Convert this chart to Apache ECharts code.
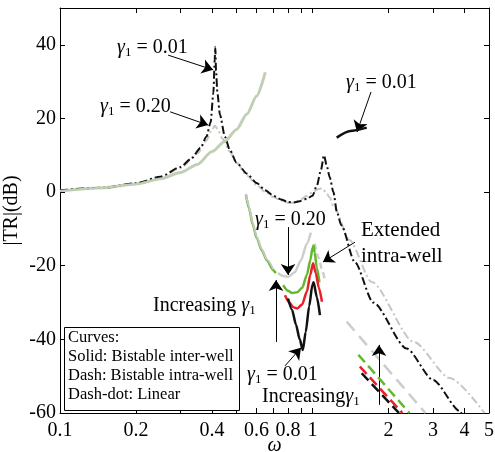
<!DOCTYPE html>
<html>
<head>
<meta charset="utf-8">
<script src="https://cdn.jsdelivr.net/npm/echarts@6/dist/echarts.min.js"></script>
<style>
  html, body { margin: 0; padding: 0; background: #fff; }
  #chart { width: 495px; height: 452px; }
</style>
</head>
<body>
<div id="chart"></div>
<script>
  // axis ticks / labels
  const xTicks = [0.1, 0.2, 0.3, 0.4, 0.5, 0.6, 0.7, 0.8, 0.9, 1, 2, 3, 4, 5]
  const xLabels = [0.1, 0.2, 0.4, 0.6, 0.8, 1, 2, 3, 4, 5]
  const yLabels = [-60, -40, -20, 0, 20, 40]

  // linear, gamma1 = 0.01 (black dash-dot)
  const linearLow = [[0.1, 0.5], [0.15, 1.2], [0.2, 2.4], [0.25, 4.2], [0.3, 6.8], [0.33, 9], [0.36, 12], [0.38, 15],
    [0.395, 19], [0.405, 27], [0.41, 36], [0.412, 39.5], [0.415, 33], [0.42, 27], [0.43, 21], [0.45, 15], [0.47, 11.5],
    [0.5, 8], [0.55, 5], [0.6, 2.5], [0.65, 0.5], [0.7, -1], [0.75, -2], [0.8, -2.7], [0.84, -2.8], [0.9, -2.4],
    [0.95, -1.8], [1.0, -1], [1.04, 1.7], [1.08, 6], [1.11, 10], [1.14, 7], [1.17, 4], [1.21, 0], [1.25, -5.5],
    [1.3, -9], [1.47, -19], [1.74, -30], [2.36, -42.5], [3.0, -51], [3.84, -59.5], [3.9, -60.3]]
  // linear, gamma1 = 0.20 (grey dash-dot)
  const linearHigh = [[0.1, 0.5], [0.15, 1.2], [0.2, 2.3], [0.25, 4], [0.3, 6.5], [0.35, 10.5], [0.38, 14], [0.4, 17],
    [0.41, 18], [0.42, 17.2], [0.44, 14.5], [0.47, 11], [0.5, 8], [0.55, 4.5], [0.6, 2], [0.65, 0], [0.7, -1.3],
    [0.75, -2.3], [0.8, -2.9], [0.85, -2.9], [0.9, -2], [0.95, -1], [1.0, 0], [1.05, 0.8], [1.09, 1], [1.13, 0],
    [1.17, -1.5], [1.21, -3.7], [1.4, -13], [1.715, -24.4], [2.51, -40.6], [3.5, -50.5], [4.8, -60]]

  // bistable inter-well (solid)
  const interUpper = [[0.1, 0.3], [0.15, 1.2], [0.2, 2.2], [0.25, 3.6], [0.3, 5.3], [0.35, 7.5], [0.4, 11],
    [0.45, 13.8], [0.5, 17], [0.55, 21.2], [0.6, 26], [0.65, 32.5]]
  const interLowGrey = [[0.545, -0.5], [0.56, -4], [0.58, -8.5], [0.6, -12], [0.63, -15.5], [0.66, -18.3], [0.7, -21]]
  const interLowGreen = [[0.545, -0.7], [0.56, -4.3], [0.58, -8.8], [0.6, -12.3], [0.63, -15.8], [0.66, -18.6], [0.7, -21.2], [0.715, -22]]
  const interResGrey = [[0.73, -22], [0.76, -22.7], [0.8, -23], [0.85, -21.8], [0.9, -18.5], [0.95, -14], [0.985, -11]]
  const interResGreen = [[0.765, -25.3], [0.8, -26.8], [0.83, -27.4], [0.87, -27.2], [0.91, -26], [0.95, -22.5],
    [0.98, -18.5], [1.0, -15.2], [1.01, -14.5], [1.02, -16.5], [1.04, -20.5], [1.065, -24.5]]
  const interResRed = [[0.778, -28], [0.81, -30], [0.84, -31.3], [0.87, -31.6], [0.91, -30.5], [0.95, -27],
    [0.98, -22.5], [1.005, -19.3], [1.03, -22], [1.06, -26], [1.09, -29.8]]
  const interResBlack = [[0.8, -28.9], [0.83, -32], [0.86, -36], [0.89, -40], [0.915, -42.9], [0.94, -38],
    [0.97, -31], [1.0, -25], [1.01, -24.5], [1.04, -28.5], [1.07, -33.4]]
  const interHighBlack = [[1.247, 14.8], [1.41, 16.6], [1.64, 17.5]]

  // bistable intra-well (dash)
  const extendedGrey = [[1.02, -14], [1.06, -18], [1.09, -21], [1.12, -24]]
  const intraGrey = [[1.366, -35.2], [2.8, -60]]
  const intraGreen = [[1.52, -44.2], [2.42, -60]]
  const intraRed = [[1.54, -47.4], [2.27, -60]]
  const intraBlack = [[1.566, -49.2], [2.2, -60]]

  // annotation arrows [from, to] in data coords
  const arrows = [
    [[0.268, 37.2], [0.404, 33.2]],
    [[0.273, 21.8], [0.386, 18.2]],
    [[1.705, 27.2], [1.5, 16.3]],
    [[0.8, -9.5], [0.8, -22.5]],
    [[1.473, -13.6], [1.1, -19]],
    [[0.717, -40.7], [0.717, -23.9]],
    [[0.778, -47.2], [0.9, -42.3]],
    [[1.834, -57.8], [1.834, -41.5]]
  ]

  const serif = 'Liberation Serif'
  const GREY = '#cdcdcd'
  const GREEN = '#63b82e'
  const RED = '#e8202a'
  const BLACK = '#111'

  const myChart = echarts.init(document.getElementById('chart'))

  function line(data, color, width, type, z, opacity) {
    return {
      type: 'line',
      data: data,
      showSymbol: false,
      symbol: 'none',
      smooth: 0.25,
      smoothMonotone: 'x',
      silent: true,
      z: z || 2,
      lineStyle: { color: color, width: width, type: type || 'solid', opacity: opacity == null ? 1 : opacity }
    }
  }

  const rich = {
    g: { fontFamily: serif, fontSize: 20, fontStyle: 'italic', fill: '#000' },
    s: { fontFamily: serif, fontSize: 13, padding: [10, 0, 0, 0], fill: '#000' },
    t: { fontFamily: serif, fontSize: 20, fill: '#000' }
  }
  function gammaText(x, y, str) {
    return {
      type: 'text', x: x, y: y, z: 20,
      style: { text: str, rich: rich, fontFamily: serif, fontSize: 20, fill: '#000', verticalAlign: 'middle' }
    }
  }
  function plainText(x, y, str, size) {
    return {
      type: 'text', x: x, y: y, z: 20,
      style: { text: str, fontFamily: serif, fontSize: size, fill: '#000', verticalAlign: 'middle' }
    }
  }

  const dashDot = [8, 3, 2, 3]

  const option = {
    animation: false,
    grid: { left: 60, right: 6, top: 8, bottom: 39, outerBoundsMode: 'none', containLabel: false },
    xAxis: [{
      type: 'log', min: 0.1, max: 5, logBase: 10,
      name: 'ω', nameLocation: 'middle', nameGap: 23, nameMoveOverlap: false,
      nameTextStyle: { fontFamily: serif, fontSize: 20, color: '#000', fontStyle: 'italic' },
      axisLine: { onZero: false, lineStyle: { color: '#000', width: 1 } },
      axisTick: { inside: true, length: 5, customValues: xTicks, lineStyle: { color: '#000' } },
      minorTick: { show: false },
      axisLabel: {
        customValues: xLabels, margin: 8, color: '#000', fontFamily: serif, fontSize: 20,
        alignMinLabel: 'center', alignMaxLabel: 'center', hideOverlap: false,
        formatter: v => String(+(+v).toPrecision(3))
      },
      splitLine: { show: false }
    }, {
      type: 'log', min: 0.1, max: 5, logBase: 10, position: 'top',
      axisLine: { onZero: false, lineStyle: { color: '#000', width: 1 } },
      axisTick: { inside: true, length: 5, customValues: xTicks, lineStyle: { color: '#000' } },
      axisLabel: { show: false },
      splitLine: { show: false }
    }],
    yAxis: [{
      type: 'value', min: -60, max: 50, interval: 20,
      name: '|TR|(dB)', nameLocation: 'middle', nameGap: 38, nameMoveOverlap: false,
      nameTextStyle: { fontFamily: serif, fontSize: 20, color: '#000' },
      axisLine: { show: true, onZero: false, lineStyle: { color: '#000', width: 1 } },
      axisTick: { show: true, inside: true, length: 5, lineStyle: { color: '#000' } },
      axisLabel: {
        margin: 4, color: '#000', fontFamily: serif, fontSize: 20,
        formatter: v => (yLabels.indexOf(v) >= 0 ? String(v) : '')
      },
      splitLine: { show: false }
    }, {
      type: 'value', min: -60, max: 50, interval: 20, position: 'right',
      axisLine: { show: true, onZero: false, lineStyle: { color: '#000', width: 1 } },
      axisTick: { show: true, inside: true, length: 5, lineStyle: { color: '#000' } },
      axisLabel: { show: false },
      splitLine: { show: false }
    }],
    series: [
      line(linearHigh, '#c9c7bd', 2, dashDot, 2),
      line(linearLow, BLACK, 2, dashDot, 3),
      line(interUpper, GREEN, 3, 'solid', 4, 0.45),
      line(interUpper, '#c8c8c2', 2, 'solid', 5),
      line(interLowGreen, GREEN, 2.5, 'solid', 4),
      line(interLowGrey, '#c8c8c2', 2, 'solid', 5),
      line(interResGrey, GREY, 2.5, 'solid', 4),
      line(extendedGrey, GREY, 2.5, [6, 4], 4),
      line(interResGreen, GREEN, 2.5, 'solid', 5),
      line(interResRed, RED, 2.5, 'solid', 6),
      line(interResBlack, BLACK, 2.5, 'solid', 7),
      line(interHighBlack, BLACK, 2.5, 'solid', 7),
      line(intraGrey, GREY, 2.5, [12, 7], 4),
      line(intraGreen, GREEN, 2.5, [10, 5], 5),
      line(intraRed, RED, 2.5, [10, 5], 6),
      line(intraBlack, BLACK, 2.5, [10, 5], 7),
      {
        type: 'line', data: [], silent: true, z: 10,
        markLine: {
          silent: true, animation: false,
          symbol: ['none', 'arrow'], symbolSize: 11,
          label: { show: false },
          lineStyle: { color: '#000', width: 1, type: 'solid' },
          data: arrows.map(a => [{ coord: a[0] }, { coord: a[1] }])
        }
      }
    ],
    graphic: [
      gammaText(117, 48, '{g|γ}{s|1}{t| = 0.01}'),
      gammaText(100, 107, '{g|γ}{s|1}{t| = 0.20}'),
      gammaText(346, 83, '{g|γ}{s|1}{t| = 0.01}'),
      gammaText(255, 220, '{g|γ}{s|1}{t| = 0.20}'),
      plainText(361, 230, 'Extended', 21),
      plainText(361, 256, 'intra-well', 21),
      gammaText(153, 306, '{t|Increasing }{g|γ}{s|1}'),
      gammaText(247, 375, '{g|γ}{s|1}{t| = 0.01}'),
      gammaText(262, 397, '{t|Increasing}{g|γ}{s|1}'),
      {
        type: 'rect', z: 15,
        shape: { x: 64.5, y: 327.5, width: 175, height: 83 },
        style: { fill: '#fff', stroke: '#000', lineWidth: 1 }
      },
      plainText(68, 338, 'Curves:', 16.5),
      plainText(68, 357, 'Solid: Bistable inter-well', 16.5),
      plainText(68, 376, 'Dash: Bistable intra-well', 16.5),
      plainText(68, 395, 'Dash-dot: Linear', 16.5)
    ]
  }

  myChart.setOption(option)
</script>
</body>
</html>
